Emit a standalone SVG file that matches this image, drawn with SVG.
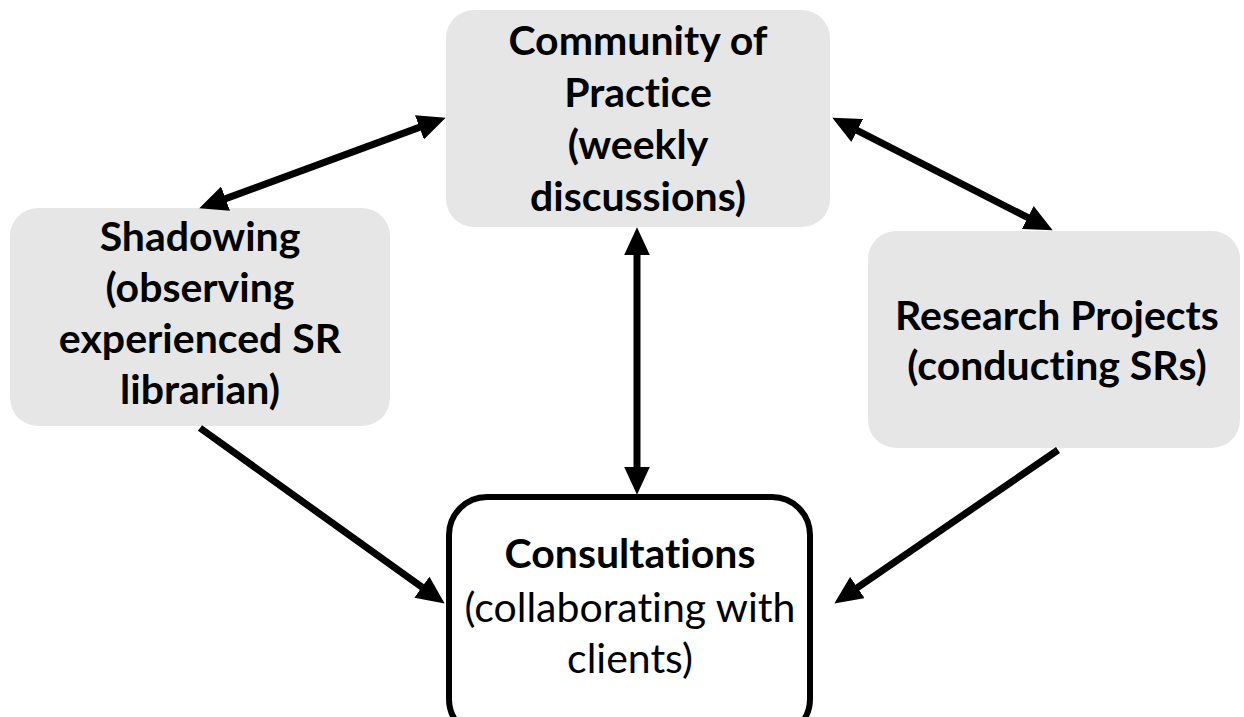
<svg xmlns="http://www.w3.org/2000/svg" width="1244" height="717" viewBox="0 0 1244 717">
<style>
.box{fill:#e6e6e6;stroke:none}
.main{fill:#ffffff;stroke:#000000;stroke-width:6}
text{font-family:Lato,"Open Sans","Liberation Sans",sans-serif;font-size:41px;fill:#000;text-anchor:middle;font-variant-ligatures:none;font-feature-settings:"liga" 0}
.b{font-weight:bold}
.conn line{stroke:#000;stroke-width:7;fill:none}
</style>
<defs>
<marker id="ah" markerUnits="userSpaceOnUse" markerWidth="28" markerHeight="26" refX="16" refY="12" orient="auto-start-reverse" viewBox="0 0 26 24">
<path d="M0,0 L26,12 L0,24 z" fill="#000"/>
</marker>
</defs>
<rect width="1244" height="717" fill="#fff"/>
<g id="community">
<rect class="box" x="446" y="10" width="384" height="217" rx="28"/>
<text class="b" x="638" y="55">Community of</text>
<text class="b" x="638" y="107">Practice</text>
<text class="b" x="638" y="159">(weekly</text>
<text class="b" x="638" y="211">discussions)</text>
</g>
<g id="shadowing">
<rect class="box" x="10" y="208" width="380" height="218" rx="28"/>
<text class="b" x="200" y="251">Shadowing</text>
<text class="b" x="200" y="302">(observing</text>
<text class="b" x="200" y="353">experienced SR</text>
<text class="b" x="200" y="404">librarian)</text>
</g>
<g id="research">
<rect class="box" x="868" y="231" width="372" height="217" rx="28"/>
<text class="b" x="1057" y="330">Research Projects</text>
<text class="b" x="1057" y="380">(conducting SRs)</text>
</g>
<g id="consultations">
<rect class="main" x="449" y="497" width="361" height="240" rx="38"/>
<text class="b" x="630" y="568">Consultations</text>
<text x="630" y="622">(collaborating with</text>
<text x="630" y="673">clients)</text>
</g>
<g class="conn" id="connectors">
<line x1="209.4" y1="204.6" x2="435.6" y2="121.4" marker-start="url(#ah)" marker-end="url(#ah)"/>
<line x1="841.9" y1="122.6" x2="1043.1" y2="225.4" marker-start="url(#ah)" marker-end="url(#ah)"/>
<line x1="637" y1="238" x2="637" y2="484" marker-start="url(#ah)" marker-end="url(#ah)"/>
<line x1="200" y1="428" x2="435.9" y2="597.2" marker-end="url(#ah)"/>
<line x1="1058" y1="450" x2="843.2" y2="597.3" marker-end="url(#ah)"/>
</g>
</svg>
